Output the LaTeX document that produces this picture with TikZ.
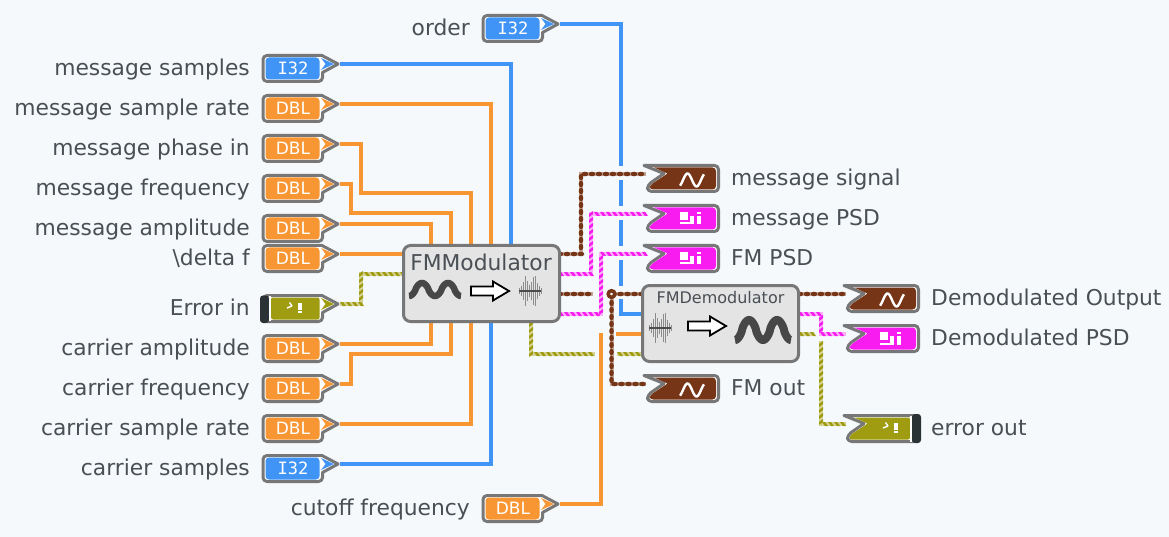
\documentclass[tikz,border=0pt]{standalone}
\usepackage{fontspec}
\setmainfont{DejaVu Sans}
\newfontfamily\monof{DejaVu Sans Mono}
\usetikzlibrary{decorations.markings}
\definecolor{bgc}{HTML}{F5F9FC}
\definecolor{cblue}{HTML}{3F94F6}
\definecolor{corange}{HTML}{F89633}
\definecolor{cpink}{HTML}{F81CF0}
\definecolor{cbrown}{HTML}{753516}
\definecolor{colive}{HTML}{A09C12}
\definecolor{cgray}{HTML}{777777}
\definecolor{cdark}{HTML}{2B3236}
\definecolor{ctxt}{HTML}{4A4F55}
\tikzset{
  x=1pt,y=-1pt,
  wire/.style={line width=4,line join=miter},
  bluewire/.style={wire,draw=cblue},
  orangewire/.style={wire,draw=corange},
  hatchmark/.style={postaction={decorate,decoration={markings,
     mark=between positions 3pt and 1 step 6pt with {\fill[#1] (-3,-2) -- (0.2,-2) -- (3,2) -- (-0.2,2) -- cycle;}}}},
  olivewire/.style={wire,draw=colive!45!white,hatchmark=colive},
  pinkwire/.style={wire,draw=cpink!35!white,hatchmark=cpink},
  brownwire/.style={wire,draw=cbrown!45!white,postaction={decorate,decoration={markings,
     mark=between positions 2pt and 1 step 7pt with {\fill[cbrown] (0,0) ellipse (3.3 and 2.3);}}}},
  gapline/.style={draw=bgc,line width=14},
  outer/.style={draw=cgray,line width=3,fill=white,line join=round},
  lab/.style={text=ctxt,font=\fontsize{21.8}{24}\selectfont,inner sep=0pt},
  lableft/.style={lab,anchor=mid east},
  labright/.style={lab,anchor=mid west},
  typetxt/.style={text=white,font=\fontsize{17}{18}\selectfont,inner sep=0pt},
  vibox/.style={draw=cgray,line width=3,fill=black!10.5,rounded corners=7,minimum width=156,minimum height=76,inner sep=0pt},
  vititle/.style={text=ctxt,inner sep=0pt},
  bigarrow/.style={draw=black,line width=1.8,fill=white,line join=miter},
}
% control terminal: name, left x, tip y, colour, type text, font switch
\newcommand{\ctl}[6]{%
  \begin{scope}[shift={(#2,#3)}]
    \path[outer,rounded corners=4] (30,-8.5) [sharp corners] -- (60,-8.5) -- (76,0) -- (60.5,8.5) [rounded corners=4] -- (60.5,17.5) -- (1,17.5) -- (1,-8.5) -- (30,-8.5);
    \fill[#4,rounded corners=3.5] (3.5,-6.5) rectangle (57.5,15.5);
    \fill[#4] (59,-6) -- (72,0) -- (59,6) -- (63.5,0) -- cycle;
    \coordinate (#1) at (78,0);
    \node[typetxt] (#1-type) at (31,4.5) {#6#5};
  \end{scope}}
% indicator terminal: name, left x, notch y, colour
\newcommand{\ind}[4]{%
  \begin{scope}[shift={(#2,#3)}]
    \path[outer,rounded corners=4] (40,-7.5) -- (72.5,-7.5) -- (72.5,18.5) -- (1.5,18.5) -- (1.5,12) [sharp corners] -- (18,0.5) -- (-2,-7.5) -- (40,-7.5);
    \fill[#4,rounded corners=3.5] (40,-5.5) -- (70,-5.5) -- (70,16.5) -- (3.5,16.5) -- (3.5,12.5) [sharp corners] -- (21.5,0.5) -- (8,-5.5) -- (40,-5.5);
    \coordinate (#1) at (0,0);
  \end{scope}}
\newcommand{\sineicon}[2]{\draw[white,line width=2.4] plot[smooth,domain=0:1,samples=21] ({#1-12+24*\x},{#2-6.5*sin(-60+480*\x)});}
\newcommand{\psdicon}[2]{%
  \fill[white] (#1-11,#2-6) rectangle (#1-3,#2+2);
  \fill[white] (#1-11,#2+4.5) rectangle (#1-1,#2+6.5);
  \fill[white] (#1-1,#2-2) rectangle (#1+3,#2+6.5);
  \fill[white] (#1+6,#2-6) rectangle (#1+9.5,#2-4);
  \fill[white] (#1+6,#2-2) rectangle (#1+9.5,#2+6.5);}
\newcommand{\erricon}[2]{%
  \fill[white] (#1+2,#2-5) rectangle (#1+6,#2+2);
  \fill[white] (#1+2,#2+3) rectangle (#1+6,#2+5);
  \draw[white,line width=1.4] (#1-9,#2) -- (#1-4,#2-2) (#1-6.5,#2-5.5) -- (#1-4,#2-2);}
\newcommand{\noiseicon}[2]{%
  \foreach \dx/\h in {-11/3,-9/5,-7/9,-5/15,-3/10,-1/6,1/9,3/14,5/15,7/8,9/5,11/3}{
    \draw[black!45,line width=1] (#1+\dx,#2-\h) -- (#1+\dx,#2+\h);}
  \draw[black!70,line width=1.8] (#1-11,#2) -- (#1+11,#2);}
\newcommand{\waveicon}[5]{\draw[black!72,line width=#5] plot[smooth,domain=0:1,samples=61] ({#1+(#2-#1)*\x},{#3-(#3-#4)*(0.5+0.5*sign(-cos(720*\x))*pow(abs(cos(720*\x)),0.75))});}
\newcommand{\arrowicon}[2]{\draw[bigarrow] (#1,#2-4.5) -- (#1+22,#2-4.5) -- (#1+22,#2-9.5) -- (#1+38,#2) -- (#1+22,#2+9.5) -- (#1+22,#2+4.5) -- (#1,#2+4.5) -- cycle;}
\begin{document}
\begin{tikzpicture}
\fill[bgc] (0,0) rectangle (1169,537);
\useasboundingbox (0,0) rectangle (1169,537);
% ports
\coordinate (pt1) at (431,245); \coordinate (pt2) at (451,245); \coordinate (pt3) at (471,245); \coordinate (pt4) at (491,245); \coordinate (pt5) at (511,245);
\coordinate (pb1) at (431,323); \coordinate (pb2) at (451,323); \coordinate (pb3) at (471,323); \coordinate (pb4) at (491,323);
\coordinate (pl1) at (404,254); \coordinate (pl2) at (404,274);
\coordinate (mr1) at (558,254); \coordinate (mr2) at (558,274); \coordinate (mr3) at (558,294); \coordinate (mr4) at (558,314); \coordinate (mb) at (531,321);
\coordinate (dl1) at (643,294); \coordinate (dl2) at (643,314); \coordinate (dl3) at (643,334); \coordinate (dl4) at (643,354);
\coordinate (dr1) at (798,294); \coordinate (dr2) at (798,314); \coordinate (dr3) at (798,334);
\coordinate (junc) at (611.5,294);

\ctl{msamp}{262}{64}{cblue}{I32}{\monof}
\ctl{mrate}{262}{104}{corange}{DBL}{}
\ctl{mphase}{262}{144}{corange}{DBL}{}
\ctl{mfreq}{262}{184}{corange}{DBL}{}
\ctl{mamp}{262}{224}{corange}{DBL}{}
\ctl{delf}{262}{254}{corange}{DBL}{}
\ctl{camp}{262}{344}{corange}{DBL}{}
\ctl{cfreq}{262}{384}{corange}{DBL}{}
\ctl{crate}{262}{424}{corange}{DBL}{}
\ctl{csamp}{262}{464}{cblue}{I32}{\monof}
\ctl{order}{482}{24}{cblue}{I32}{\monof}
\ctl{cutoff}{482}{504}{corange}{DBL}{}
% error in
\begin{scope}[shift={(262,304)}]
  \path[outer,rounded corners=4] (30,-8.5) [sharp corners] -- (60,-8.5) -- (76,0) -- (60.5,8.5) [rounded corners=4] -- (60.5,17.5) -- (1,17.5) -- (1,-8.5) -- (30,-8.5);
  \fill[cdark,rounded corners=3] (-2,-8.5) -- (7,-8.5) -- (7,19) -- (-2,19) -- cycle;
  \fill[white] (7,-8.5) rectangle (9,17);
  \fill[colive,rounded corners=2] (9,-6.5) rectangle (57.5,15.5);
  \fill[colive] (59,-6) -- (72,0) -- (59,6) -- (63.5,0) -- cycle;
  \coordinate (errin) at (78,0);
\end{scope}
\erricon{296}{308}

% wires
\draw[bluewire] (order) -| (621,314) -- (dl2);
\draw[orangewire] (mrate) -| (pt4);
\draw[orangewire] (mphase) -| (360.5,193) -| (pt3);
\draw[orangewire] (mfreq) -| (351,213.5) -| (pt2);
\draw[orangewire] (mamp) -| (pt1);
\draw[orangewire] (delf) -- (pl1);
\draw[orangewire] (camp) -| (pb1);
\draw[orangewire] (cfreq) -| (351,354) -| (pb2);
\draw[orangewire] (crate) -| (pb3);
\draw[bluewire] (msamp) -| (pt5);
\draw[bluewire] (csamp) -| (pb4);
\draw[orangewire] (cutoff) -| (601,333);
\draw[orangewire] (616,334) -- (dl3);
\draw[olivewire] (errin) -| (361,274) -- (pl2);
\draw[gapline] (621,166) -- (621,180);
\draw[gapline] (621,206) -- (621,220);
\draw[gapline] (621,246) -- (621,260);
\draw[gapline] (621,286) -- (621,299);
\draw[olivewire] (mb) |- (595,354);
\draw[olivewire] (617,354) -- (dl4);
\draw[olivewire] (dr3) -- (813,334);
\draw[olivewire] (821,341) |- (846,424);
\draw[brownwire] (mr1) -| (581,174) -- (646,174);
\draw[pinkwire] (mr2) -| (591,214) -- (646,214);
\draw[pinkwire] (mr4) -| (601,254) -- (646,254);
\draw[brownwire] (mr3) -- (593,294);
\draw[brownwire] (junc) -- (dl1);
\draw[brownwire] (junc) |- (646,384);
\draw[brownwire] (dr1) -- (846,294);
\draw[pinkwire] (dr2) -| (821,334) -- (846,334);
\draw[fill=bgc,draw=cbrown,line width=3.5] (junc) circle (3.3);

% indicators
\ind{msig}{646}{173}{cbrown}\sineicon{692}{180}
\ind{mpsd}{646}{213}{cpink}\psdicon{691}{218}
\ind{fpsd}{646}{253}{cpink}\psdicon{691}{258}
\ind{fmo}{646}{383}{cbrown}\sineicon{692}{390}
\ind{dout}{846}{293}{cbrown}\sineicon{892}{300}
\ind{dpsd}{846}{333}{cpink}\psdicon{891}{338}
\begin{scope}[shift={(846,423)}]
  \path[outer,rounded corners=4] (40,-7.5) -- (72.5,-7.5) -- (72.5,18.5) -- (1.5,18.5) -- (1.5,12) [sharp corners] -- (18,0.5) -- (-2,-7.5) -- (40,-7.5);
  \fill[colive,rounded corners=2] (40,-5.5) -- (64,-5.5) -- (64,16.5) -- (3.5,16.5) -- (3.5,12.5) [sharp corners] -- (21.5,0.5) -- (8,-5.5) -- (40,-5.5);
  \fill[white] (64,-7.5) rectangle (66,18.5);
  \fill[cdark,rounded corners=3] (66,-9) rectangle (75,20);
  \coordinate (errout) at (0,0);
\end{scope}
\erricon{892}{428}

% VIs
\node[vibox] (fmm) at (481.5,283.5) {};
\node[vititle,font=\fontsize{21.8}{24}\selectfont] (fmmt) at (481,262) {FMModulator};
\waveicon{409}{461}{296}{283}{6.5}
\arrowicon{471}{291}
\noiseicon{530}{291}
\node[vibox] (fmd) at (720.5,323.5) {};
\node[vititle,font=\fontsize{16}{18}\selectfont] (fmdt) at (720.5,298) {FMDemodulator};
\noiseicon{660}{328}
\arrowicon{688}{326}
\waveicon{735}{791}{340}{320}{8}

% labels
\node[lableft] (l1) at (250,73) {message samples};
\node[lableft] (l2) at (250,113) {message sample rate};
\node[lableft] (l3) at (250,153) {message phase in};
\node[lableft] (l4) at (250,193) {message frequency};
\node[lableft] (l5) at (250,233) {message amplitude};
\node[lableft] (l6) at (250,263) {\textbackslash delta f};
\node[lableft] (l7) at (250,313) {Error in};
\node[lableft] (l8) at (250,353) {carrier amplitude};
\node[lableft] (l9) at (250,393) {carrier frequency};
\node[lableft] (l10) at (250,433) {carrier sample rate};
\node[lableft] (l11) at (250,473) {carrier samples};
\node[lableft] (l12) at (470,33) {order};
\node[lableft] (l13) at (470,513) {cutoff frequency};
\node[labright] (r1) at (731,183) {message signal};
\node[labright] (r2) at (731,223) {message PSD};
\node[labright] (r3) at (731,263) {FM PSD};
\node[labright] (r4) at (731,393) {FM out};
\node[labright] (r5) at (931,303) {Demodulated Output};
\node[labright] (r6) at (931,343) {Demodulated PSD};
\node[labright] (r7) at (931,433) {error out};
\end{tikzpicture}
\end{document}
